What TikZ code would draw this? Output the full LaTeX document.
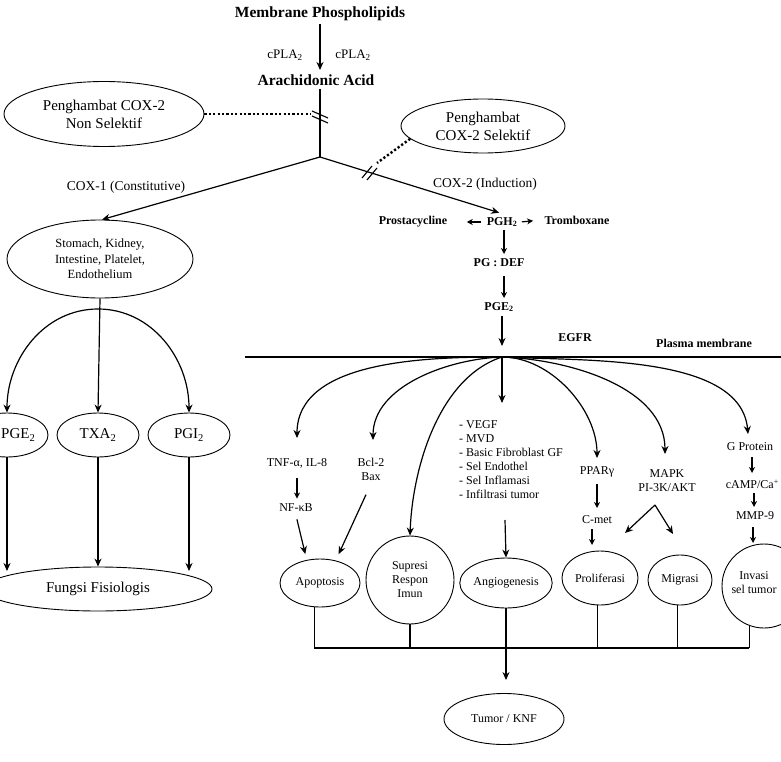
\documentclass[tikz,border=0pt]{standalone}
\usepackage{fontspec}
\setmainfont{Liberation Serif}
\usetikzlibrary{arrows.meta,shapes.geometric,calc}
\begin{document}
\begin{tikzpicture}[x=1pt,y=-1pt,
  lw/.style={line width=1.1pt},
  thin1/.style={line width=0.9pt},
  arr/.style={line width=1.2pt,-{Stealth[length=8pt,width=7pt]}},
  sarr/.style={line width=1.2pt,-{Stealth[length=6pt,width=6pt]}},
  ell/.style={draw,thin1,ellipse,inner sep=0pt,align=center},
  big/.style={font=\fontsize{15}{18}\selectfont},
  mid/.style={font=\fontsize{13.5}{16}\selectfont},
  sm/.style={font=\fontsize{12}{14}\selectfont},
  smm/.style={font=\fontsize{12.5}{15.5}\selectfont},
  bbig/.style={font=\fontsize{15.5}{18}\selectfont\bfseries},
  bsm/.style={font=\fontsize{12}{14}\selectfont\bfseries},
  dots/.style={line width=2.4pt,dash pattern=on 2.2pt off 2.2pt},
]
\useasboundingbox (0,0) rectangle (781,762);
\clip (0,0) rectangle (781,762);

% ---------- top ----------
\node[bbig] (mem) at (320,14) {Membrane Phospholipids};
\node[bbig] (ara) at (316,80) {Arachidonic Acid};
\draw[arr] (320,24) -- (320,70);
\node[font=\fontsize{13}{15}\selectfont] (cpl) at (285,55) {cPLA\textsubscript{2}};
\node[font=\fontsize{13}{15}\selectfont] (cpr) at (353,55) {cPLA\textsubscript{2}};

\coordinate (br) at (320,157);
\draw[lw] (320,89) -- (br);
% inhibition marks
\draw[lw] (312,111) -- (328,118);
\draw[lw] (312,116) -- (328,123);
\draw[lw] (362,178) -- (372,166);
\draw[lw] (367,180) -- (377,168);

\node[ell,big,minimum width=200,minimum height=65] (nsel) at (104,114) {Penghambat COX-2\\Non Selektif};
\coordinate (vs) at (311,114);
\draw[dots] (nsel.east) -- (vs);

\node[ell,big,minimum width=164,minimum height=54] (sel) at (483,126) {Penghambat\\COX-2 Selektif};
\coordinate (ds) at (377,163);
\draw[dots] (sel.190) -- (ds);

% ---------- COX-1 branch ----------
\node[ell,smm,minimum width=186,minimum height=78] (sto) at (100,259) {Stomach, Kidney,\\Intestine, Platelet,\\Endothelium};
\draw[arr] (br) -- (sto.87);
\node[mid] (cox1) at (126,187) {COX-1 (Constitutive)};

\node[ell,minimum width=82,minimum height=44] (pgel) at (7,435) {};
\node[big,anchor=west,inner sep=0pt] (pgelt) at (1,435) {PGE\textsubscript{2}};
\node[ell,big,minimum width=82,minimum height=44] (txa) at (98,435) {TXA\textsubscript{2}};
\node[ell,big,minimum width=82,minimum height=44] (pgi) at (189,435) {PGI\textsubscript{2}};
\coordinate (top3) at (98,309);
\draw[arr] (sto.south) -- (txa.north);
\draw[arr] (top3) to[out=180,in=90] (pgel.north);
\draw[arr] (top3) to[out=0,in=90] (pgi.north);

\node[ell,big,minimum width=228,minimum height=44] (fun) at (98,589) {Fungsi Fisiologis};
\draw[arr] (pgel.south) -- (pgel.south |- 0,571);
\draw[arr] (txa.south) -- (fun.north);
\draw[arr] (pgi.south) -- (pgi.south |- 0,571);

% ---------- COX-2 branch ----------
\node[mid] (cox2) at (485,184) {COX-2 (Induction)};
\node[bsm] (pgh) at (502,222) {PGH\textsubscript{2}};
\draw[arr,shorten >=3pt] (br) -- (pgh.north);
\node[bsm] (pros) at (413,222) {Prostacycline};
\node[bsm] (trom) at (577,220) {Tromboxane};
\draw[sarr,shorten <=2pt,shorten >=16pt] (pgh.west) -- (pros.east);
\draw[sarr,shorten <=1pt,shorten >=8pt] (pgh.east) -- (trom.west);
\node[bsm] (pgdef) at (499,263) {PG : DEF};
\draw[sarr] (504,230) -- (504,254);
\node[bsm] (pge) at (499,307) {PGE\textsubscript{2}};
\draw[sarr] (504,276) -- (504,298);

\coordinate (hub) at (502,357);
\draw[arr,shorten >=11pt] (502,316) -- (hub);
\coordinate (ml) at (245,357);
\coordinate (mr) at (781,357);
\draw[lw] (ml) -- (mr);
\node[bsm] (egfr) at (575,338) {EGFR};
\node[bsm] (plm) at (704,343) {Plasma membrane};

% ---------- downstream ----------
\node[sm] (tnf) at (297,463) {TNF-α, IL-8};
\node[sm] (nfkb) at (296,508) {NF-κB};
\draw[sarr,shorten <=7pt,shorten >=2pt] (tnf.south) -- (tnf.south |- nfkb.north);
\node[sm,align=center] (bcl) at (371,469) {Bcl-2\\Bax};
\node[ell,sm,minimum width=80,minimum height=48] (apop) at (320,583) {Apoptosis};
\draw[arr,shorten <=4pt,shorten >=6pt] (nfkb.south) -- (apop.120);
\draw[arr,shorten <=12pt,shorten >=7pt] (bcl.south) -- (apop.55);

\node[draw,thin1,circle,sm,minimum size=88,inner sep=0pt,align=center] (sup) at (410,580) {Supresi\\Respon\\Imun};

\node[sm,align=left,anchor=north west,inner sep=0pt] (vegf) at (459,420) {- VEGF\\- MVD\\- Basic Fibroblast GF\\- Sel Endothel\\- Sel Inflamasi\\- Infiltrasi tumor};
\coordinate (vin) at (502,403);
\node[ell,sm,minimum width=88,minimum height=50] (ang) at (506,583) {Angiogenesis};
\draw[arr] (505,520) -- (ang.north);

\node[sm] (ppar) at (597,472) {PPARγ};
\node[sm] (cmet) at (597,520) {C-met};
\draw[sarr] (597,484) -- (597,508);
\node[ell,sm,minimum width=76,minimum height=54] (prol) at (600,578) {Proliferasi};
\draw[sarr] (592,529) -- (592,545);

\node[sm,align=center] (mapk) at (667,481) {MAPK\\PI-3K/AKT};
\node[ell,sm,minimum width=64,minimum height=50] (migr) at (680,580) {Migrasi};
\coordinate (mks) at (655,505);
\coordinate (mkl) at (625,533);
\coordinate (mkr) at (673,534);
\draw[arr] (mks) -- (mkl);
\draw[arr] (mks) -- (mkr);

\node[sm] (gp) at (750,447) {G Protein};
\node[sm,anchor=east,inner sep=1pt] (camp) at (780,484) {cAMP/Ca\textsuperscript{+}};
\node[sm] (mmp) at (755,516) {MMP-9};
\draw[sarr] (752,457) -- (752,473);
\draw[sarr] (754,493) -- (754,507);
\draw[sarr] (753,527) -- (753,543);
\node[draw,thin1,circle,minimum size=84,inner sep=0pt] (inv) at (764,586) {};
\node[sm,align=center] (invt) at (754,583) {Invasi\\sel tumor};

% arcs from EGFR hub
\draw[arr] (hub) to[out=180,in=90,looseness=0.9] (297,438);
\draw[arr] (hub) to[out=182,in=90,looseness=0.9] (373,440);
\draw[arr] (hub) to[out=198,in=88,looseness=0.85] (sup.north);
\draw[arr] (hub) -- (vin);
\draw[arr] (hub) to[out=0,in=90,looseness=0.9] (597,458);
\draw[arr] (hub) to[out=-2,in=90,looseness=0.9] (665,454);
\draw[arr] (hub) to[out=-3,in=95,looseness=0.8] (748,434);

% ---------- bus ----------
\coordinate (busR) at (749,648);
\draw[lw] (apop.258) |- (busR);
\draw[lw] (sup.south) -- (sup.south |- busR);
\draw[lw] (prol.265) -- (prol.265 |- busR);
\draw[lw] (migr.265) -- (migr.265 |- busR);
\draw[lw] (inv.250) -- (inv.250 |- busR);
\node[ell,sm,minimum width=120,minimum height=51] (tum) at (504,719) {Tumor / KNF};
\draw[arr,shorten >=13pt] (ang.south) -- (ang.south |- tum.north);
\end{tikzpicture}
\end{document}
